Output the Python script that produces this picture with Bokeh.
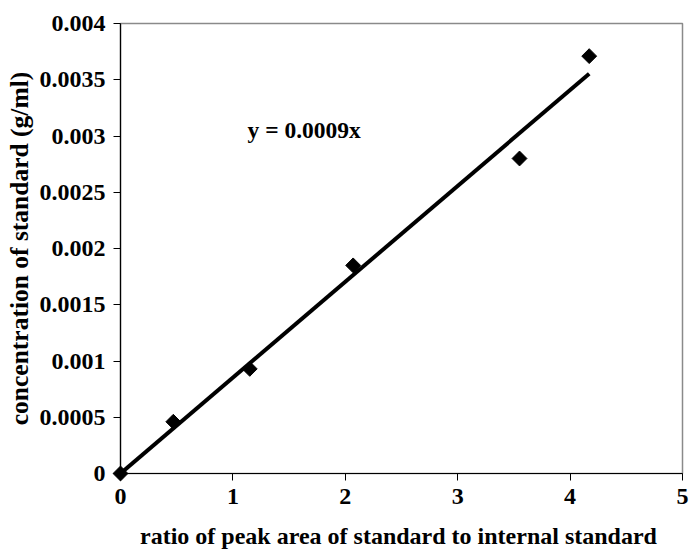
import math
from bokeh.plotting import figure
from bokeh.models import FixedTicker, Range1d, Label, ColumnDataSource
from bokeh.embed import file_html
from bokeh.resources import INLINE

# Calibration data: peak-area ratio vs. concentration of standard
ratio = [0.0, 0.47, 1.15, 2.07, 3.55, 4.17]
concentration = [0.0, 0.00046, 0.00093, 0.00185, 0.00280, 0.00371]

x_ticks = [0, 1, 2, 3, 4, 5]
y_ticks = [0, 0.0005, 0.001, 0.0015, 0.002, 0.0025, 0.003, 0.0035, 0.004]
y_tick_labels = ["0", "0.0005", "0.001", "0.0015", "0.002", "0.0025", "0.003", "0.0035", "0.004"]
equation_text = "y = 0.0009x"
x_title = "ratio of  peak area of standard to internal standard"
y_title = "concentration of standard (g/ml)"

FONT = "Liberation Serif"

# Least-squares line through the origin
slope = sum(a * b for a, b in zip(ratio, concentration)) / sum(a * a for a in ratio)
line_x = [0.0, max(ratio)]
line_y = [slope * v for v in line_x]

p = figure(width=690, height=554, output_backend="svg", toolbar_location=None,
           x_range=Range1d(0, 5), y_range=Range1d(0, 0.004),
           min_border_left=120, min_border_right=8, min_border_top=23, min_border_bottom=81)

p.background_fill_color = "white"
p.border_fill_color = "white"
p.outline_line_color = "#8a8a8a"
p.outline_line_width = 1.5
p.xgrid.visible = False
p.ygrid.visible = False

for ax in (p.xaxis[0], p.yaxis[0]):
    ax.axis_line_color = "black"
    ax.axis_line_width = 1.2
    ax.major_tick_line_color = "black"
    ax.major_tick_in = 0
    ax.major_tick_out = 7
    ax.minor_tick_line_color = None
    ax.major_label_text_font = FONT
    ax.major_label_text_font_style = "bold"
    ax.major_label_text_font_size = "24px"
    ax.major_label_text_color = "black"
    ax.axis_label_text_font = FONT
    ax.axis_label_text_font_style = "bold"
    ax.axis_label_text_color = "black"

p.xaxis.ticker = FixedTicker(ticks=x_ticks)
p.yaxis.ticker = FixedTicker(ticks=y_ticks)
p.yaxis.major_label_overrides = {t: s for t, s in zip(y_ticks, y_tick_labels)}
p.xaxis.major_label_standoff = 8
p.yaxis.major_label_standoff = 8
p.xaxis.axis_label = x_title
p.yaxis.axis_label = y_title
p.xaxis.axis_label_text_font_size = "24px"
p.yaxis.axis_label_text_font_size = "25.5px"
p.xaxis.axis_label_standoff = 16
p.yaxis.axis_label_standoff = 3

p.line(line_x, line_y, line_color="black", line_width=4)

# Diamond markers drawn as squares turned by 45 degrees
src = ColumnDataSource(dict(x=ratio, y=concentration))
p.scatter("x", "y", source=src, marker="square", angle=math.pi / 4, size=10.5,
          fill_color="black", line_color="black", level="overlay")

p.add_layout(Label(x=1.13, y=0.00305, text=equation_text, text_font=FONT,
                   text_font_style="bold", text_font_size="23.5px",
                   text_color="black", text_baseline="middle"))

open("out.html", "w").write(file_html(p, INLINE))
